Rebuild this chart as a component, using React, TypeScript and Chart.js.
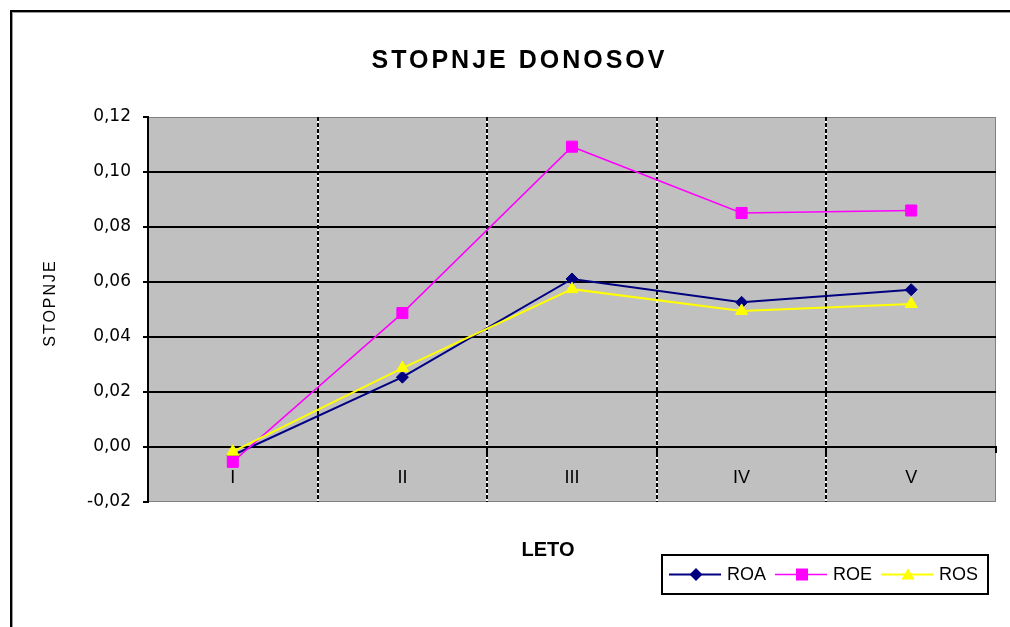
import React, { useEffect, useRef } from 'react';
import { Chart, registerables } from 'chart.js';

Chart.register(...registerables);

// ---- data ----
const categories = ['I', 'II', 'III', 'IV', 'V'];
const seriesNames = ['ROA', 'ROE', 'ROS'];
const roaValues = [-0.003, 0.0254, 0.0611, 0.0526, 0.0572];
const roeValues = [-0.0054, 0.0487, 0.1092, 0.0851, 0.086];
const rosValues = [-0.0017, 0.0287, 0.0574, 0.0495, 0.052];
const yMin = -0.02;
const yMax = 0.12;
const yStep = 0.02;
const titleText = 'STOPNJE DONOSOV';
const xAxisTitle = 'LETO';
const yAxisTitle = 'STOPNJE';

const seriesColors = ['#000080', '#FF00FF', '#FFFF00'];
const ARIAL = '"Liberation Sans", Arial, sans-serif';

function drawMarker(ctx: CanvasRenderingContext2D, kind: string, x: number, y: number, color: string) {
  ctx.fillStyle = color;
  ctx.beginPath();
  if (kind === 'rectRot') {
    const r = 6.5;
    ctx.moveTo(x - r, y);
    ctx.lineTo(x, y - r);
    ctx.lineTo(x + r, y);
    ctx.lineTo(x, y + r);
  } else if (kind === 'rect') {
    const h = 6;
    ctx.rect(x - h, y - h, 2 * h, 2 * h);
  } else {
    const r = 7.5;
    ctx.moveTo(x, y - r * 0.85);
    ctx.lineTo(x + r * 0.87, y + r * 0.65);
    ctx.lineTo(x - r * 0.87, y + r * 0.65);
  }
  ctx.closePath();
  ctx.fill();
}

const decorPlugin = {
  id: 'decor',
  beforeDraw(chart: any) {
    const { ctx, chartArea: ca } = chart;
    ctx.save();
    ctx.fillStyle = '#ffffff';
    ctx.fillRect(0, 0, chart.width, chart.height);
    // outer frame
    ctx.fillStyle = '#000000';
    ctx.fillRect(10, 10, 2, chart.height - 10);
    ctx.fillRect(10, 10, chart.width - 10, 2);
    ctx.fillStyle = '#9a9a9a';
    ctx.fillRect(12, 12, 1, chart.height - 12);
    ctx.fillRect(12, 12, chart.width - 12, 1);
    // plot area
    ctx.fillStyle = '#C0C0C0';
    ctx.fillRect(ca.left, ca.top, ca.right - ca.left, ca.bottom - ca.top);
    ctx.strokeStyle = '#808080';
    ctx.lineWidth = 1;
    ctx.strokeRect(ca.left + 0.5, ca.top + 0.5, ca.right - ca.left - 1, ca.bottom - ca.top - 1);
    // white line under dashed category separators
    const xs = chart.scales.x;
    ctx.strokeStyle = '#ffffff';
    ctx.lineWidth = 2;
    for (let i = 0; i < categories.length - 1; i++) {
      const px = Math.round((xs.getPixelForValue(i) + xs.getPixelForValue(i + 1)) / 2);
      ctx.beginPath();
      ctx.moveTo(px, ca.top);
      ctx.lineTo(px, ca.bottom);
      ctx.stroke();
    }
    ctx.restore();
  },
  afterDraw(chart: any) {
    const ctx: CanvasRenderingContext2D = chart.ctx;
    ctx.save();
    ctx.fillStyle = '#000000';
    // title
    ctx.font = `bold 25px ${ARIAL}`;
    (ctx as any).letterSpacing = '3px';
    ctx.textAlign = 'center';
    ctx.textBaseline = 'alphabetic';
    ctx.fillText(titleText, 519.5, 68);
    // x axis title
    (ctx as any).letterSpacing = '0px';
    ctx.font = `bold 20px ${ARIAL}`;
    ctx.fillText(xAxisTitle, 548, 556);
    // y axis title
    ctx.save();
    ctx.translate(55, 304);
    ctx.rotate(-Math.PI / 2);
    ctx.font = `16px ${ARIAL}`;
    (ctx as any).letterSpacing = '2px';
    ctx.textAlign = 'center';
    ctx.fillText(yAxisTitle, 1, 0);
    ctx.restore();
    // legend
    (ctx as any).letterSpacing = '0px';
    const lx = 662, ly = 555, lw = 326, lh = 39;
    ctx.fillStyle = '#ffffff';
    ctx.fillRect(lx, ly, lw, lh);
    ctx.strokeStyle = '#000000';
    ctx.lineWidth = 2;
    ctx.strokeRect(lx, ly, lw, lh);
    const kinds = ['rectRot', 'rect', 'triangle'];
    const widths = [2, 1.5, 2];
    const cy = 574.5;
    for (let i = 0; i < seriesNames.length; i++) {
      const x0 = 669 + i * 106;
      ctx.strokeStyle = seriesColors[i];
      ctx.lineWidth = widths[i];
      ctx.beginPath();
      ctx.moveTo(x0, cy);
      ctx.lineTo(x0 + 52, cy);
      ctx.stroke();
      drawMarker(ctx, kinds[i], x0 + 27, cy, seriesColors[i]);
      ctx.fillStyle = '#000000';
      ctx.font = `18px ${ARIAL}`;
      ctx.textAlign = 'left';
      ctx.textBaseline = 'alphabetic';
      ctx.fillText(seriesNames[i], x0 + 58, 580);
    }
    ctx.restore();
  },
};

const isEnd = (v: number) => Math.abs(v - yMax) < 1e-9 || Math.abs(v - yMin) < 1e-9;

export default function App() {
  const ref = useRef<HTMLCanvasElement>(null);
  useEffect(() => {
    const chart = new Chart(ref.current as HTMLCanvasElement, {
      type: 'line',
      data: {
        labels: categories,
        datasets: [
          {
            label: seriesNames[0],
            data: roaValues,
            borderColor: seriesColors[0],
            backgroundColor: seriesColors[0],
            borderWidth: 2,
            pointStyle: 'rectRot',
            pointRadius: 6,
            pointBorderWidth: 1,
            pointBackgroundColor: seriesColors[0],
            pointBorderColor: seriesColors[0],
            tension: 0,
            order: 2,
          },
          {
            label: seriesNames[1],
            data: roeValues,
            borderColor: seriesColors[1],
            backgroundColor: seriesColors[1],
            borderWidth: 1.5,
            pointStyle: 'rect',
            pointRadius: 7.8,
            pointBorderWidth: 1,
            pointBackgroundColor: seriesColors[1],
            pointBorderColor: seriesColors[1],
            tension: 0,
            order: 1,
          },
          {
            label: seriesNames[2],
            data: rosValues,
            borderColor: seriesColors[2],
            backgroundColor: seriesColors[2],
            borderWidth: 2,
            pointStyle: 'triangle',
            pointRadius: 7,
            pointBorderWidth: 1,
            pointBackgroundColor: seriesColors[2],
            pointBorderColor: seriesColors[2],
            tension: 0,
            order: 0,
          },
        ],
      },
      options: {
        animation: false,
        responsive: false,
        devicePixelRatio: 1,
        events: [],
        layout: { padding: { left: 0, top: 117, right: 14, bottom: 125 } },
        plugins: {
          legend: { display: false },
          tooltip: { enabled: false },
          title: { display: false },
        },
        scales: {
          x: {
            type: 'category',
            position: { y: 0 } as any,
            offset: true,
            grid: {
              offset: true,
              color: (c: any) =>
                c.type !== 'tick' || c.index === 0 || c.index >= categories.length ? 'rgba(0,0,0,0)' : '#000000',
              lineWidth: 2,
              tickLength: 5,
              tickColor: '#000000',
              tickWidth: 2,
              drawOnChartArea: true,
            },
            border: { display: true, color: '#000000', width: 2, dash: [4, 2] },
            ticks: {
              color: '#000000',
              padding: 15,
              font: { family: ARIAL, size: 18 },
              maxRotation: 0,
              autoSkip: false,
            },
          },
          y: {
            type: 'linear',
            min: yMin,
            max: yMax,
            afterFit: (scale: any) => {
              scale.width = 148;
            },
            grid: {
              color: (c: any) => (c.tick && isEnd(c.tick.value) ? 'rgba(0,0,0,0)' : '#000000'),
              lineWidth: 2,
              tickLength: 5,
              tickColor: '#000000',
              tickWidth: 2,
            },
            border: { display: true, color: '#000000', width: 2 },
            ticks: {
              stepSize: yStep,
              color: '#000000',
              padding: 12,
              font: { family: '"DejaVu Sans", sans-serif', size: 17 },
              callback: (v: any) => {
                const n = Math.round(Number(v) * 100) / 100;
                return (Math.abs(n) < 1e-9 ? 0 : n).toFixed(2).replace('.', ',');
              },
            },
          },
        },
      },
      plugins: [decorPlugin],
    });
    return () => chart.destroy();
  }, []);
  return (
    <div style={{ position: 'fixed', left: 0, top: 0, width: 1010, height: 627, background: '#ffffff' }}>
      <canvas ref={ref} width={1010} height={627} style={{ display: 'block', width: 1010, height: 627 }} />
    </div>
  );
}
